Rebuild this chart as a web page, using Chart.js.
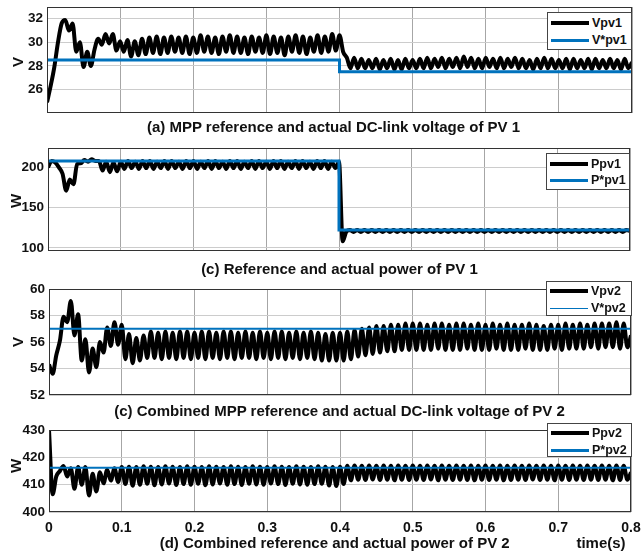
<!DOCTYPE html>
<html><head><meta charset="utf-8">
<script src="https://cdn.jsdelivr.net/npm/chart.js@4/dist/chart.umd.min.js"></script>
<style>
html,body{margin:0;padding:0;overflow:hidden;background:#fff;}
body{width:641px;height:553px;position:relative;font-family:"Liberation Sans",Arial,sans-serif;font-weight:bold;color:#111;}
canvas{position:absolute;left:0;}
.t{position:absolute;white-space:nowrap;font-size:15px;line-height:1;transform:translate(-50%,-50%);z-index:5;}
.yl{position:absolute;font-size:15px;line-height:1;transform:translate(-50%,-50%) rotate(-90deg);z-index:5;}
.leg{position:absolute;border:1px solid #444;background:#fff;z-index:6;box-sizing:border-box;}
.lline{position:absolute;z-index:7;}
.ltxt{position:absolute;font-size:12.5px;line-height:1;transform:translateY(-50%);z-index:7;white-space:nowrap;}
</style>
</head><body>
<script>
// ---------------- DATA ----------------
const SAMPLE_DT = 0.005; // output step of the simulated signals (s)
const xTickValues = [0, 0.1, 0.2, 0.3, 0.4, 0.5, 0.6, 0.7, 0.8];
const xTickLabels = ['0', '0.1', '0.2', '0.3', '0.4', '0.5', '0.6', '0.7', '0.8'];

// (a) PV1 voltage
const vpv1 = [
  24.9, 26.3, 27.9, 30.0, 31.6, 31.9, 31.0, 31.6, 29.2, 30.0,
  27.9, 29.2, 28.0, 29.4, 30.3, 29.8, 30.7, 29.9, 30.7, 29.3,
  30.1, 29.2, 30.2, 28.8, 30.1, 28.9, 30.3, 29.0, 30.4, 29.1,
  30.5, 29.0, 30.4, 29.1, 30.5, 29.2, 30.4, 29.1, 30.5, 29.0,
  30.4, 29.1, 30.6, 29.2, 30.5, 29.1, 30.4, 29.0, 30.5, 29.2,
  30.6, 29.1, 30.5, 29.1, 30.4, 29.0, 30.5, 29.2, 30.4, 29.1,
  30.6, 29.0, 30.5, 29.1, 30.4, 28.9, 30.5, 29.2, 30.6, 29.1,
  30.5, 29.0, 30.4, 29.2, 30.6, 29.1, 30.5, 29.2, 30.7, 29.3,
  30.6, 29.2, 28.7, 27.8, 28.7, 27.8, 28.6, 27.8, 28.5, 27.8,
  28.6, 27.7, 28.5, 27.8, 28.6, 27.7, 28.5, 27.7, 28.6, 27.8,
  28.5, 27.8, 28.6, 27.8, 28.7, 27.8, 28.6, 27.9, 28.7, 27.8,
  28.6, 27.9, 28.7, 27.8, 28.8, 27.9, 28.7, 27.8, 28.6, 27.8,
  28.7, 27.9, 28.6, 27.8, 28.7, 27.8, 28.6, 27.9, 28.7, 27.8,
  28.6, 27.8, 28.5, 27.7, 28.6, 27.8, 28.7, 27.8, 28.6, 27.8,
  28.5, 27.8, 28.6, 27.7, 28.6, 27.8, 28.5, 27.8, 28.6, 27.7,
  28.6, 27.8, 28.5, 27.8, 28.6, 27.8, 28.5, 27.7, 28.6, 27.8,
  28.3
];
const vpv1RefT = [0, 0.4, 0.4, 0.8];
const vpv1Ref  = [28.5, 28.5, 27.5, 27.5];
const vpv1YTicks = [26, 28, 30, 32];

// (c) PV1 power
const ppv1 = [
  200, 208, 206, 200, 192, 171, 185, 179, 204, 205,
  209, 207, 210, 208, 208, 196, 207, 194, 206, 195,
  207, 198, 208, 199, 207, 198, 208, 199, 208, 198,
  207, 199, 208, 198, 208, 199, 207, 198, 208, 199,
  208, 198, 207, 199, 208, 198, 208, 199, 207, 198,
  208, 199, 208, 198, 207, 199, 208, 198, 208, 199,
  207, 198, 208, 199, 208, 198, 207, 199, 208, 198,
  208, 199, 207, 198, 208, 199, 208, 198, 207, 199,
  207, 108, 120, 122, 119.5, 122, 119.5, 122, 119.5, 122,
  119.5, 122, 119.5, 122, 119.5, 122, 119.5, 122, 119.5, 122,
  119.5, 122, 119.5, 122, 119.5, 122, 119.5, 122, 119.5, 122,
  119.5, 122, 119.5, 122, 119.5, 122, 119.5, 122, 119.5, 122,
  119.5, 122, 119.5, 122, 119.5, 122, 119.5, 122, 119.5, 122,
  119.5, 122, 119.5, 122, 119.5, 122, 119.5, 122, 119.5, 122,
  119.5, 122, 119.5, 122, 119.5, 122, 119.5, 122, 119.5, 122,
  119.5, 122, 119.5, 122, 119.5, 122, 119.5, 122, 119.5, 122,
  121
];
const ppv1RefT = [0, 0.4, 0.4, 0.8];
const ppv1Ref  = [208, 208, 122, 122];
const ppv1YTicks = [100, 150, 200];

// (c) PV2 voltage
const vpv2 = [
  54.3, 53.6, 55.0, 56.1, 57.9, 57.5, 59.1, 56.5, 58.1, 54.6,
  56.2, 53.7, 55.5, 54.1, 56.0, 55.2, 57.1, 55.7, 57.5, 55.8,
  57.3, 54.7, 56.6, 54.4, 56.3, 54.6, 56.5, 54.8, 56.8, 54.8,
  56.7, 54.7, 56.8, 54.8, 56.7, 54.7, 56.8, 54.8, 56.8, 54.7,
  56.7, 54.8, 56.8, 54.7, 56.8, 54.8, 56.7, 54.7, 56.8, 54.8,
  56.8, 54.7, 56.7, 54.8, 56.8, 54.8, 56.7, 54.7, 56.8, 54.8,
  56.7, 54.7, 56.8, 54.8, 56.8, 54.7, 56.7, 54.8, 56.8, 54.7,
  56.7, 54.8, 56.8, 54.7, 56.7, 54.6, 56.6, 54.6, 56.7, 54.6,
  56.7, 54.6, 56.8, 54.7, 56.9, 54.9, 57.0, 55.0, 57.1, 55.1,
  57.2, 55.2, 57.2, 55.3, 57.3, 55.3, 57.3, 55.4, 57.4, 55.4,
  57.4, 55.4, 57.4, 55.4, 57.3, 55.4, 57.4, 55.5, 57.4, 55.4,
  57.3, 55.4, 57.4, 55.4, 57.4, 55.5, 57.3, 55.4, 57.4, 55.4,
  57.3, 55.4, 57.4, 55.5, 57.3, 55.4, 57.4, 55.4, 57.3, 55.4,
  57.3, 55.5, 57.4, 55.4, 57.3, 55.4, 57.2, 55.4, 57.3, 55.5,
  57.3, 55.4, 57.4, 55.5, 57.3, 55.5, 57.4, 55.5, 57.3, 55.6,
  57.4, 55.5, 57.4, 55.6, 57.4, 55.6, 57.5, 55.5, 57.4, 55.6,
  56.5
];
const vpv2RefT = [0, 0.8];
const vpv2Ref  = [57, 57];
const vpv2YTicks = [52, 54, 56, 58, 60];

// (d) PV2 power
const ppv2 = [
  430, 406.5, 413, 415, 416.8, 413, 416, 408.5, 416.5, 410,
  416.5, 406, 414, 407.5, 414.5, 410.5, 415.5, 411.5, 416, 411,
  416.5, 410.2, 416.6, 409.6, 416.5, 410.0, 416.7, 410.3, 416.6, 409.8,
  416.5, 410.1, 416.7, 410.4, 416.6, 409.9, 416.5, 410.2, 416.7, 410.0,
  416.6, 410.3, 416.5, 409.8, 416.7, 410.1, 416.6, 410.4, 416.5, 410.0,
  416.7, 410.2, 416.6, 409.9, 416.5, 410.3, 416.7, 410.1, 416.6, 410.0,
  416.5, 410.4, 416.7, 410.2, 416.6, 409.9, 416.5, 410.3, 416.7, 410.1,
  416.6, 410.0, 416.5, 410.2, 416.7, 410.3, 416.6, 409.7, 416.5, 409.5,
  416.6, 410.2, 416.9, 411.6, 417.0, 411.8, 416.9, 411.7, 417.0, 411.9,
  416.9, 411.7, 417.0, 411.8, 416.9, 411.6, 417.0, 411.8, 416.9, 411.7,
  417.0, 411.8, 416.9, 411.7, 417.0, 411.9, 416.9, 411.6, 417.0, 411.8,
  416.9, 411.7, 417.0, 411.8, 416.9, 411.7, 417.0, 411.6, 416.9, 411.8,
  417.0, 411.7, 416.9, 411.8, 417.0, 411.6, 416.9, 411.7, 417.0, 411.8,
  416.9, 411.7, 417.0, 411.9, 416.9, 411.7, 417.0, 411.8, 416.9, 411.6,
  417.0, 411.8, 416.9, 411.7, 417.0, 411.8, 416.9, 411.7, 417.0, 411.8,
  416.9, 411.7, 417.0, 411.8, 416.9, 411.6, 417.0, 411.7, 416.9, 411.8,
  414.5
];
const ppv2RefT = [0, 0.8];
const ppv2Ref  = [416.2, 416.2];
const ppv2YTicks = [400, 410, 420, 430];

const actualNames = ['Vpv1', 'Ppv1', 'Vpv2', 'Ppv2'];
const refNames    = ['V*pv1', 'P*pv1', 'V*pv2', 'P*pv2'];
const titles = [
  '(a) MPP reference and actual DC-link voltage of PV 1',
  '(c) Reference and actual power of PV 1',
  '(c) Combined MPP reference and actual DC-link voltage of PV 2',
  '(d) Combined reference and actual power of PV 2'
];
const yUnits = ['V', 'W', 'V', 'W'];
const xUnit = 'time(s)';

// ---------------- DRAWING ----------------
const BLUE = '#0072BD';
const CW = 680;
const frame = {
  id: 'frame',
  afterDatasetsDraw(chart) {
    const a = chart.chartArea, c = chart.ctx;
    c.save();
    c.strokeStyle = '#333';
    c.lineWidth = 1;
    c.strokeRect(Math.round(a.left) + 0.5, Math.round(a.top) + 0.5,
                 Math.round(a.right - a.left) - 1, Math.round(a.bottom - a.top) - 1);
    c.restore();
  }
};
function series(vals) { return vals.map((v, i) => ({x: Math.round(i * SAMPLE_DT * 1e4) / 1e4, y: v})); }
function pairs(ts, vs) { return ts.map((t, i) => ({x: t, y: vs[i]})); }

const panels = [
  {act: vpv1, refT: vpv1RefT, ref: vpv1Ref, yt: vpv1YTicks, min: 24, max: 33,
   left: 47, right: 632, top: 7, bottom: 113, xh: 16, showX: false, refW: 3},
  {act: ppv1, refT: ppv1RefT, ref: ppv1Ref, yt: ppv1YTicks, min: 96, max: 224,
   left: 48, right: 630, top: 148, bottom: 251, xh: 16, showX: false, refW: 3},
  {act: vpv2, refT: vpv2RefT, ref: vpv2Ref, yt: vpv2YTicks, min: 52, max: 60,
   left: 49, right: 631, top: 289, bottom: 395, xh: 16, showX: false, refW: 2},
  {act: ppv2, refT: ppv2RefT, ref: ppv2Ref, yt: ppv2YTicks, min: 400, max: 430,
   left: 49, right: 631, top: 430, bottom: 512, xh: 26, showX: true, refW: 2}
];

panels.forEach((p, k) => {
  const padTop = 16;
  const ctop = p.top - padTop;
  const H = p.bottom + p.xh - ctop;
  const cv = document.createElement('canvas');
  cv.width = CW; cv.height = H;
  cv.style.top = ctop + 'px';
  cv.style.width = CW + 'px'; cv.style.height = H + 'px';
  document.body.appendChild(cv);
  new Chart(cv, {
    type: 'line',
    data: {datasets: [
      {label: refNames[k], data: pairs(p.refT, p.ref), borderColor: BLUE, borderWidth: p.refW,
       pointRadius: 0, tension: 0, order: 0},
      {label: actualNames[k], data: series(p.act), borderColor: '#000', borderWidth: 4,
       pointRadius: 0, cubicInterpolationMode: 'monotone', borderJoinStyle: 'round', order: 1}
    ]},
    options: {
      responsive: false, animation: false, devicePixelRatio: 1,
      plugins: {legend: {display: false}, tooltip: {enabled: false}},
      layout: {padding: {left: 0, top: padTop, right: CW - p.right, bottom: 0}},
      scales: {
        x: {type: 'linear', min: 0, max: 0.8,
            afterBuildTicks: s => { s.ticks = xTickValues.map(v => ({value: v})); },
            afterFit: s => { s.height = p.xh; },
            ticks: {display: p.showX, padding: 8, color: '#111',
                    font: {family: 'Liberation Sans', weight: 'bold', size: 14},
                    callback: (v, i) => xTickLabels[i]},
            grid: {color: '#a6a6a6', drawTicks: false, lineWidth: 1},
            border: {display: false}},
        y: {type: 'linear', min: p.min, max: p.max,
            afterBuildTicks: s => { s.ticks = p.yt.map(v => ({value: v})); },
            afterFit: s => { s.width = p.left; },
            ticks: {padding: 4, color: '#111',
                    font: {family: 'Liberation Sans', weight: 'bold', size: 13.5},
                    callback: (v, i) => String(p.yt[i])},
            grid: {color: '#cccccc', drawTicks: false, lineWidth: 1},
            border: {display: false}}
      }
    },
    plugins: [frame]
  });
});

// titles and axis names (HTML text)
const titlePos = [[333.5, 126], [339.5, 268], [339.5, 409.5], [334.7, 542]];
titles.forEach((s, k) => {
  const d = document.createElement('div'); d.className = 't'; d.textContent = s;
  d.style.left = titlePos[k][0] + 'px'; d.style.top = titlePos[k][1] + 'px';
  document.body.appendChild(d);
});
const tx = document.createElement('div'); tx.className = 't'; tx.textContent = xUnit;
tx.style.left = '601px'; tx.style.top = '542px'; document.body.appendChild(tx);

const ylPos = [[16.5, 61.5], [15, 201], [17, 341.5], [15, 466]];
yUnits.forEach((s, k) => {
  const d = document.createElement('div'); d.className = 'yl'; d.textContent = s;
  d.style.left = ylPos[k][0] + 'px'; d.style.top = ylPos[k][1] + 'px';
  document.body.appendChild(d);
});

// legends
const legBoxes = [
  {l: 547, t: 12, w: 85, h: 38, rows: [22.7, 40], bw: 3},
  {l: 546, t: 153, w: 84, h: 37, rows: [164.3, 180], bw: 3},
  {l: 546, t: 281, w: 86, h: 35, rows: [290.7, 308.3], bw: 1.5},
  {l: 547, t: 423, w: 85, h: 34, rows: [433.3, 450], bw: 3}
];
legBoxes.forEach((b, k) => {
  const box = document.createElement('div'); box.className = 'leg';
  Object.assign(box.style, {left: b.l + 'px', top: b.t + 'px', width: b.w + 'px', height: b.h + 'px'});
  document.body.appendChild(box);
  const names = [actualNames[k], refNames[k]];
  const cols = ['#000', BLUE];
  const lws = [4, b.bw];
  names.forEach((n, r) => {
    const ln = document.createElement('div'); ln.className = 'lline';
    Object.assign(ln.style, {left: (b.l + 4) + 'px', width: '38px', top: (b.rows[r] - lws[r] / 2) + 'px',
      height: lws[r] + 'px', background: cols[r]});
    document.body.appendChild(ln);
    const tt = document.createElement('div'); tt.className = 'ltxt'; tt.textContent = n;
    Object.assign(tt.style, {left: (b.l + 45) + 'px', top: b.rows[r] + 'px'});
    document.body.appendChild(tt);
  });
});
</script>
</body></html>
